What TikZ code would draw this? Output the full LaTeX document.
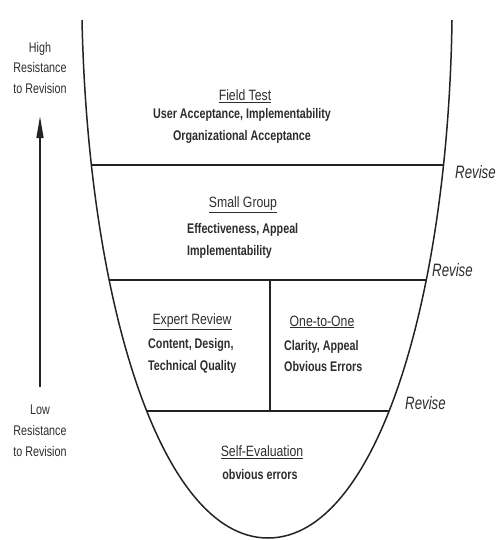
\documentclass[tikz,border=0pt]{standalone}
\usepackage{fontspec}
\usepackage{tikz}
\usetikzlibrary{arrows.meta, positioning}
\newfontfamily\bowlfont{Liberation Sans}[FakeStretch=0.77]
\newfontfamily\headfont{Liberation Sans}[FakeStretch=0.82]
\newfontfamily\revfont{Liberation Sans}[FakeStretch=0.74]
\definecolor{mydark}{RGB}{35,35,35}
\definecolor{mytext}{RGB}{45,45,45}
\tikzset{
  bowl/.style={line width=1.5bp, color=mydark, line join=round},
  divider/.style={line width=2.2bp, color=mydark},
  head/.style={inner sep=0pt, font=\headfont\fontsize{15}{21}\selectfont, text=mytext},
  body/.style={inner sep=0pt, font=\bowlfont\bfseries\fontsize{14}{22}\selectfont, text=mytext},
  sidelabel/.style={inner sep=0pt, align=center, font=\bowlfont\fontsize{14}{21}\selectfont, text=mytext},
  revlabel/.style={inner sep=0pt, anchor=west, font=\revfont\itshape\fontsize{18}{20}\selectfont, text=mytext},
  uparrow/.style={-{Triangle[length=22bp, width=7bp]}, line width=1.6bp, color=mydark}
}
\newcommand{\bowlline}{(82,20) .. controls (88,300) and (160,538) .. (268,538)
  .. controls (376,538) and (448,300) .. (452,20)}

\begin{document}
\begin{tikzpicture}[x=1bp, y=-1bp]
  \useasboundingbox (0,0) rectangle (502,540);

  % Levels inside the bowl
  \begin{scope}
    \clip \bowlline;
    \draw[divider] (0,165) -- (502,165);
    \draw[divider] (0,280) -- (502,280);
    \draw[divider] (0,411) -- (502,411);
    \draw[divider, line width=1.7bp] (270,280) -- (270,411);
  \end{scope}
  \draw[bowl] \bowlline;

  % Field test
  \node[head] (fthead) at (245,96) {\underline{Field Test}};
  \node[body, align=center] (ftbody) at (242,126) {User Acceptance, Implementability\\Organizational Acceptance};

  % Small group
  \node[head] (sghead) at (243,205) {\underline{Small Group}};
  \node[body, align=left, anchor=west] (sgbody) at (187,241) {Effectiveness, Appeal\\Implementability};

  % Expert review and one-to-one
  \node[head] (erhead) at (192,322) {\underline{Expert Review}};
  \node[body, align=left, anchor=west] (erbody) at (148,356) {Content, Design,\\Technical Quality};
  \node[head] (oohead) at (322,322) {\underline{One-to-One}};
  \node[body, align=left, anchor=west] (oobody) at (284,356) {Clarity, Appeal\\Obvious Errors};

  % Self-evaluation
  \node[head] (sehead) at (262,452) {\underline{Self-Evaluation}};
  \node[body] (sebody) at (260,475) {obvious errors};

  % Revise
  \node[revlabel] (rev1) at (455,172) {Revise};
  \node[revlabel] (rev2) at (432,270) {Revise};
  \node[revlabel] (rev3) at (405,403) {Revise};

  % Resistance scale
  \node[sidelabel] (highlbl) at (40,68) {High\\Resistance\\to Revision};
  \node[sidelabel] (lowlbl) at (40,431) {Low\\Resistance\\to Revision};
  \draw[uparrow, shorten <=18bp, shorten >=22bp] (lowlbl) -- (highlbl);
\end{tikzpicture}
\end{document}
